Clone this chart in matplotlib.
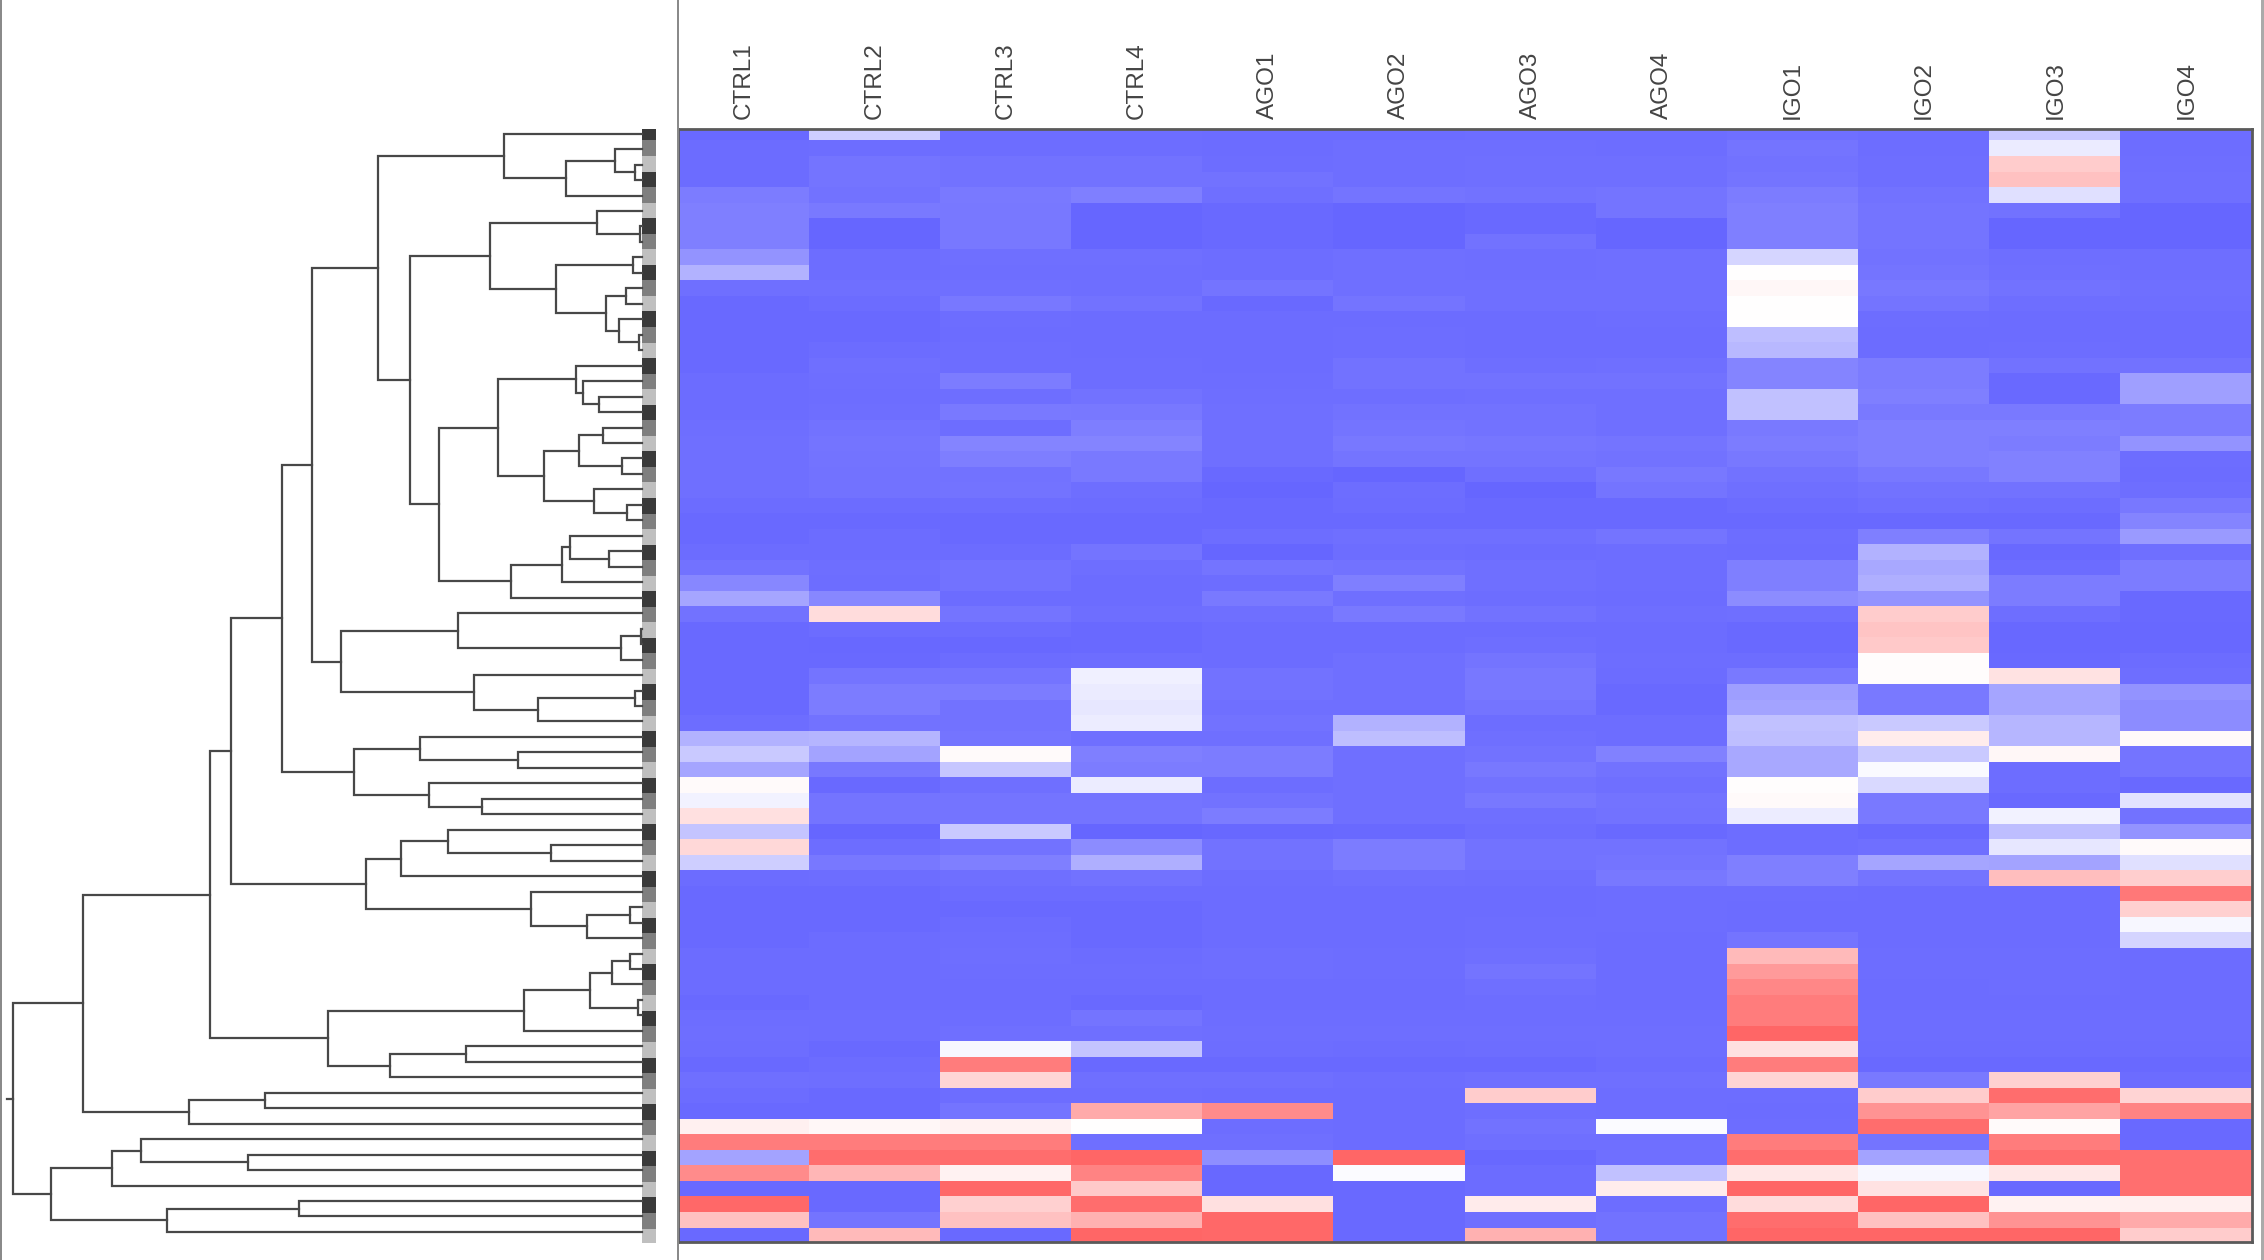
# -*- coding: utf-8 -*-
"""
heatmap with row dendrogram (CTRL / AGO / IGO)
"""

import matplotlib
matplotlib.use("Agg")
import numpy as np
import matplotlib.pyplot as plt
from matplotlib.colors import LinearSegmentedColormap
from matplotlib.lines import Line2D

plt.rcParams['font.family'] = ['Liberation Sans', 'DejaVu Sans']

### 1. data
samples = ['CTRL1', 'CTRL2', 'CTRL3', 'CTRL4', 'AGO1', 'AGO2',
           'AGO3', 'AGO4', 'IGO1', 'IGO2', 'IGO3', 'IGO4']

ctrl1 = [-.97,-.96,-.96,-.96,-.85,-.83,-.83,-.83,-.7,-.5,-.93,-.97,
         -.97,-.97,-.97,-.97,-.96,-.96,-.96,-.94,-.93,-.93,-.93,-.93,
         -.96,-.97,-.97,-.96,-.92,-.78,-.58,-.92,-.97,-.97,-.97,-.97,
         -.97,-.97,-.95,-.5,-.35,-.58,.03,-.08,.2,-.38,.25,-.32,
         -.96,-.97,-.97,-.97,-.97,-.96,-.96,-.96,-.97,-.95,-.94,-.95,
         -.97,-.93,-.96,-.97,.1,.85,-.6,.75,-.97,.98,.4,-.97]
ctrl2 = [-.32,-.95,-.9,-.9,-.92,-.87,-1,-1,-.95,-.95,-.93,-.96,
         -.97,-.97,-.96,-.93,-.94,-.95,-.94,-.92,-.9,-.91,-.92,-.92,
         -.96,-.97,-.96,-.96,-.94,-.95,-.78,.22,-.96,-.98,-.97,-.9,
         -.85,-.85,-.92,-.48,-.6,-.88,-.97,-.9,-.9,-1,-.95,-.88,
         -.95,-.97,-.97,-.97,-.96,-.96,-.96,-.96,-.96,-.95,-.95,-.97,
         -.96,-.94,-.97,-.97,.05,.85,.95,.47,-.97,-.97,-.9,.45]
ctrl3 = [-.95,-.95,-.92,-.92,-.87,-.88,-.88,-.88,-.93,-.94,-.93,-.88,
         -.95,-.96,-.95,-.95,-.85,-.94,-.87,-.95,-.8,-.84,-.92,-.91,
         -.95,-.97,-.97,-.96,-.92,-.92,-.96,-.9,-.96,-.98,-.96,-.9,
         -.85,-.92,-.92,-.9,.03,-.37,-.93,-.9,-.9,-.35,-.92,-.83,
         -.93,-.96,-.97,-.96,-.95,-.94,-.95,-.96,-.96,-.95,-.93,-.05,
         .85,.27,-.95,-.9,.08,.85,.95,.08,.98,.3,.4,-.97]
ctrl4 = [-.95,-.95,-.92,-.92,-.83,-1,-1,-1,-.93,-.94,-.94,-.92,
         -.96,-.96,-.96,-.95,-.95,-.92,-.88,-.84,-.8,-.87,-.87,-.94,
         -.96,-.97,-.97,-.9,-.94,-.96,-.96,-.94,-.97,-.97,-.95,-.1,
         -.13,-.15,-.12,-.93,-.83,-.85,-.12,-.9,-.9,-1,-.75,-.52,
         -.92,-.96,-.97,-.97,-.97,-.96,-.95,-.96,-.97,-.9,-.93,-.38,
         -.97,-.93,-.95,.55,0,-.93,1,.8,.35,.95,.5,1]
ago1 = [-.96,-.96,-.95,-.92,-.93,-.97,-.97,-.97,-.95,-.95,-.9,-.97,
        -.96,-.96,-.96,-.96,-.95,-.94,-.93,-.93,-.93,-.93,-.97,-1,
        -.97,-.97,-.95,-1,-.9,-.95,-.87,-.93,-.96,-.96,-.96,-.92,
        -.92,-.93,-.92,-.93,-.85,-.85,-.95,-.92,-.85,-.98,-.92,-.92,
        -.95,-.96,-.96,-.96,-.96,-.94,-.94,-.96,-.96,-.95,-.94,-.95,
        -.97,-.93,-.96,.75,-.95,-.93,-.73,-.98,-.98,.2,.98,.98]
ago2 = [-.96,-.94,-.94,-.94,-.9,-1,-1,-1,-.93,-.93,-.93,-.9,
        -.96,-.95,-.95,-.92,-.92,-.94,-.92,-.9,-.88,-.9,-1,-.95,
        -.96,-.97,-.93,-.95,-.92,-.83,-.93,-.87,-.96,-.96,-.93,-.93,
        -.93,-.93,-.5,-.42,-.93,-.93,-.93,-.93,-.93,-.97,-.85,-.85,
        -.93,-.96,-.96,-.96,-.96,-.95,-.95,-.96,-.96,-.95,-.94,-.96,
        -.97,-.95,-.96,-.96,-.96,-.96,1,-.02,-.97,-.97,-.97,-.97]
ago3 = [-.95,-.94,-.93,-.93,-.92,-.97,-.97,-.92,-.94,-.94,-.93,-.93,
        -.96,-.96,-.96,-.94,-.92,-.93,-.92,-.92,-.89,-.9,-.93,-1,
        -.97,-.97,-.93,-.96,-.93,-.93,-.95,-.92,-.96,-.94,-.9,-.88,
        -.88,-.9,-.95,-.93,-.92,-.88,-.92,-.88,-.93,-.95,-.92,-.92,
        -.94,-.96,-.96,-.95,-.95,-.93,-.9,-.93,-.95,-.95,-.94,-.95,
        -.97,-.93,.33,-.94,-.92,-.93,-.98,-.96,-.96,.13,-.93,.5]
ago4 = [-.95,-.95,-.93,-.93,-.9,-.9,-1,-1,-.93,-.93,-.93,-.93,
        -.95,-.96,-.96,-.93,-.92,-.93,-.93,-.93,-.9,-.92,-.88,-.9,
        -.97,-.97,-.9,-.95,-.95,-.95,-.96,-.94,-.96,-.96,-.95,-.96,
        -.97,-.97,-.95,-.95,-.82,-.92,-.93,-.91,-.92,-.97,-.92,-.9,
        -.88,-.95,-.95,-.95,-.96,-.96,-.96,-.96,-.96,-.95,-.94,-.94,
        -.96,-.93,-.95,-.95,-.02,-.93,-.93,-.4,.12,-.95,-.92,-.92]
igo1 = [-.93,-.9,-.92,-.9,-.85,-.83,-.83,-.83,-.27,0,.05,0,
        0,-.42,-.46,-.8,-.8,-.4,-.4,-.87,-.85,-.88,-.92,-.93,
        -.96,-.97,-.95,-.96,-.83,-.83,-.75,-.93,-.97,-.97,-.95,-.87,
        -.63,-.6,-.4,-.42,-.57,-.57,.01,.03,-.12,-.95,-.95,-.83,
        -.83,-.95,-.96,-.96,-.9,.45,.65,.78,.85,.85,1,.2,
        .85,.28,-.95,-.96,-.95,.85,.95,.15,1,.22,.95,1]
igo2 = [-.95,-.95,-.94,-.94,-.92,-.9,-.9,-.9,-.92,-.9,-.88,-.9,
        -.95,-.96,-.96,-.85,-.85,-.83,-.87,-.83,-.83,-.83,-.88,-.92,
        -.93,-.97,-.83,-.5,-.57,-.52,-.7,.33,.38,.35,.02,.02,
        -.87,-.87,-.35,.12,-.35,-.03,-.25,-.87,-.87,-.97,-.93,-.58,
        -.9,-.96,-.96,-.96,-.96,-.95,-.95,-.96,-.96,-.95,-.95,-.96,
        -.97,-.87,.33,.7,.95,-.9,-.6,-.05,.18,1,.4,1]
igo3 = [-.35,-.13,.33,.4,-.2,-.92,-1,-1,-.94,-.93,-.92,-.94,
        -.96,-.96,-.95,-.92,-.97,-.97,-.87,-.83,-.85,-.82,-.82,-.92,
        -.95,-.97,-.9,-.97,-.96,-.85,-.85,-.94,-.98,-.98,-.97,.18,
        -.58,-.58,-.47,-.47,.05,-.95,-.95,-.97,-.08,-.42,-.15,-.6,
        .42,-.96,-.96,-.96,-.96,-.95,-.95,-.95,-.96,-.95,-.95,-.96,
        -.97,.3,.95,.6,.03,.85,.95,.15,-.97,.08,.7,1]
igo4 = [-.95,-.95,-.94,-.93,-.93,-1,-1,-1,-.94,-.94,-.93,-.94,
        -.96,-.96,-.96,-.92,-.62,-.62,-.85,-.85,-.7,-.95,-.96,-.94,
        -.88,-.8,-.65,-.93,-.85,-.85,-.97,-.97,-.98,-.98,-.96,-.94,
        -.7,-.75,-.75,.03,-.9,-.9,-.97,-.18,-.92,-.7,.03,-.2,
        .32,.88,.3,-.05,-.28,-.96,-.96,-.96,-.96,-.95,-.95,-.96,
        -.97,-.96,.28,.8,-.97,-.97,.93,.93,.93,.1,.55,.33]

# merge tree : (height, upper child, lower child), int = row number
top_a = (318, 0, (176, (63, 1, (15, 2, 3)), 4))
top_b = (350, (104, 5, (4, 6, 7)),
         (199, (20, 8, 9), (83, (38, 10, 11), (53, 12, (7, 13, 14)))))
top_c = (468, (333, (153, 15, (135, 16, (98, 17, 18))),
               (227, (145, (89, 19, 20), (45, 21, 22)),
                (111, 23, (35, 24, 25)))),
         (302, (185, (165, 26, (76, 27, 28)), 29), 30))
mid_a = (694, (425, 31, (48, (2, 32, 33), 34)),
         (387, 35, (239, (17, 36, 37), 38)))
mid_b = (665, (512, 39, (287, 40, 41)), (490, 42, (369, 43, 44)))
mid_c = (637, (556, (447, 45, (210, 46, 47)), 48),
         (255, 49, (126, (27, 50, 51), 52)))
mid_d = (725, (271, (120, (69, (28, 53, 54), 55), (10, 56, 57)), 58),
         (581, (405, 59, 60), 61))
low_a = (1045, (870, 62, 63), 64)
low_b = (1363, (1221, (1156, 65, (908, 66, 67)), 68),
         (1096, (791, 69, 70), 71))
tree = (1450, (1288, (995, (948, (829, (761, (609, top_a, (535, top_b, top_c)),
                                        mid_a), mid_b), mid_c), mid_d), low_a),
        low_b)

side_grays = ['#3a3a3a', '#7f7f7f', '#bfbfbf']

### 2. figure
W, H = 2264, 1260
fig = plt.figure(figsize=(W / 100, H / 100), dpi=100, facecolor='white')

def add_box(x0, y0, x1, y1):
    # box in image pixels (y from top)
    return fig.add_axes([x0 / W, 1 - y1 / H, (x1 - x0) / W, (y1 - y0) / H])

top_px, bottom_px = 129, 1242
# first and last row are cut a little by the frame
row_top, row_bottom = -0.24, 71.43
leaf_top, leaf_bottom = -0.30, 71.65

# 1) heatmap
data = np.array([ctrl1, ctrl2, ctrl3, ctrl4, ago1, ago2,
                 ago3, ago4, igo1, igo2, igo3, igo4]).T
cmap = LinearSegmentedColormap.from_list('bwr2', ['#6666ff', '#ffffff', '#ff6666'])

ax = add_box(678, top_px, 2252, bottom_px)
ax.imshow(data, cmap=cmap, vmin=-1, vmax=1, aspect='auto', interpolation='nearest')
ax.set_ylim(row_bottom, row_top)
ax.set_yticks([])
ax.set_xticks(range(len(samples)))
ax.set_xticklabels(samples, rotation=90, fontsize=17.5, color='#444444')
ax.xaxis.tick_top()
ax.tick_params(axis='x', length=0, pad=7)
for s in ax.spines.values():
    s.set_color('#5a5a5a')
    s.set_linewidth(2)

# 2) side bar
ax_side = add_box(642, top_px, 656, bottom_px + 1)
side = np.arange(data.shape[0]).reshape(-1, 1) % 3
ax_side.imshow(side, cmap=LinearSegmentedColormap.from_list('g', side_grays, N=3),
               aspect='auto', interpolation='nearest')
ax_side.set_ylim(row_bottom, row_top)
ax_side.axis('off')

# 3) dendrogram
ax_den = add_box(0, top_px, 642, bottom_px)
ax_den.set_xlim(1480, 0)
ax_den.set_ylim(leaf_bottom, leaf_top)
ax_den.axis('off')

def draw_node(node):
    if isinstance(node, int):
        return 0, node
    h, up, low = node
    h1, y1 = draw_node(up)
    h2, y2 = draw_node(low)
    ax_den.plot([h1, h, h, h2], [y1, y1, y2, y2], color='#484848', lw=1.6,
                solid_joinstyle='miter', clip_on=False)
    return h, (y1 + y2) / 2

root_h, root_y = draw_node(tree)
ax_den.plot([root_h, root_h + 15], [root_y, root_y], color='#484848', lw=1.6)

# 4) frame lines
for x_px, lw_px, col in ((1, 2, '#8a8a8a'), (678, 2, '#8a8a8a'), (2262, 3, '#aaaaaa')):
    fig.add_artist(Line2D([x_px / W, x_px / W], [0, 1], color=col, lw=lw_px * 0.72))

fig.savefig('out.png', dpi=100)
